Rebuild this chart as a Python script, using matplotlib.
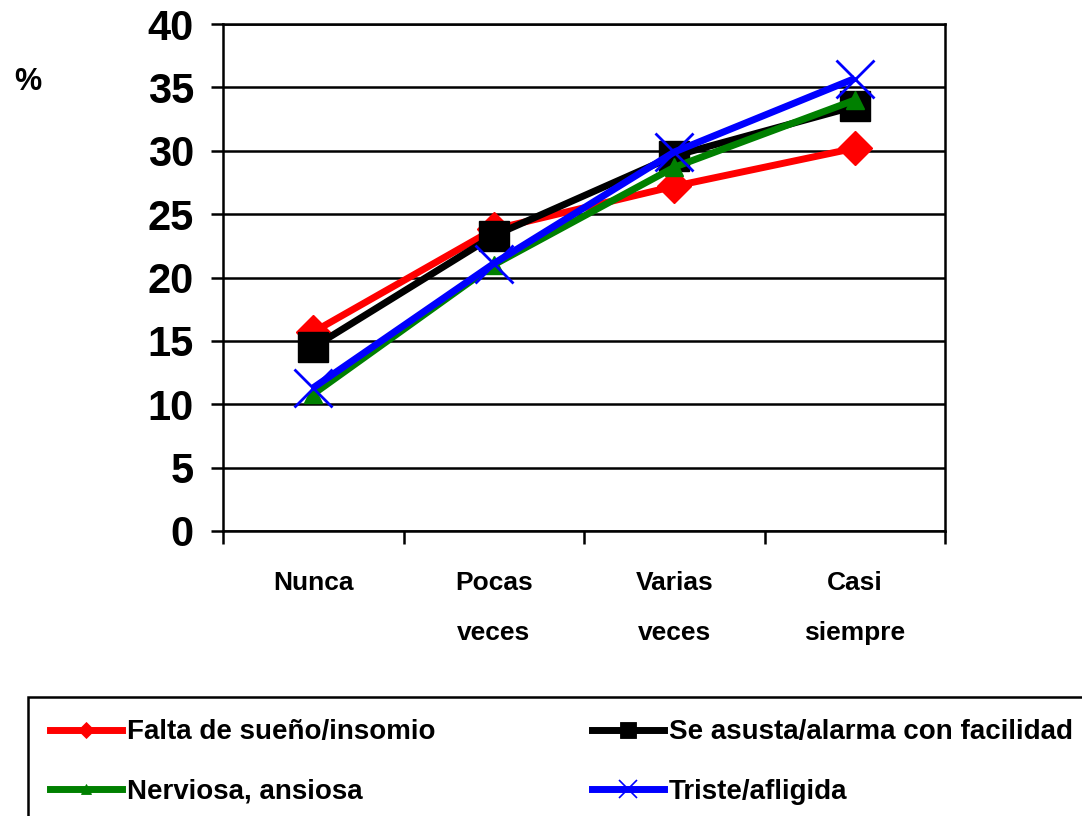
import matplotlib
matplotlib.use("Agg")
import matplotlib.pyplot as plt
from matplotlib.lines import Line2D

categories = ["Nunca", "Pocas\nveces", "Varias\nveces", "Casi\nsiempre"]
series_names = ["Falta de sueño/insomio", "Se asusta/alarma con facilidad",
                "Nerviosa, ansiosa", "Triste/afligida"]
falta_sueno = [15.7, 23.8, 27.2, 30.2]
se_asusta = [14.5, 23.3, 29.6, 33.5]
nerviosa = [10.8, 21.0, 28.7, 34.0]
triste = [11.3, 21.1, 29.9, 35.7]
y_ticks = [0, 5, 10, 15, 20, 25, 30, 35, 40]

plt.rcParams['font.family'] = ['Liberation Sans', 'DejaVu Sans']

fig = plt.figure(figsize=(10.82, 8.16), dpi=100)
ax = fig.add_axes([223/1082, 1-531/816, (945-223)/1082, (531-24)/816])

x = list(range(1, len(categories)+1))
styles = [
    (falta_sueno, "#ff0000", "D", 17, 1.0),
    (se_asusta, "#000000", "s", 22, 1.0),
    (nerviosa, "#008000", "^", 13, 1.0),
    (triste, "#0000ff", "x", 27, 2.0),
]
for vals, c, m, ms, mew in styles:
    ax.plot(x, vals, color=c, lw=5, marker=m, ms=ms, mfc=c, mec=c, mew=mew,
            solid_capstyle='butt', clip_on=False)

ax.set_xlim(0.5, len(categories)+0.5)
ax.set_ylim(0, 40)
ax.set_yticks(y_ticks)
ax.set_yticklabels([str(t) for t in y_ticks], fontsize=30, fontweight='bold')
ax.yaxis.grid(True, color='black', lw=1.8)
ax.set_axisbelow(True)

ax.set_xticks(x)
ax.set_xticklabels(categories, fontsize=19, fontweight='bold', linespacing=2.35)
ax.set_xticks([i+0.5 for i in range(0, len(categories)+1)], minor=True)
ax.tick_params(axis='x', which='major', length=0, pad=29)
ax.tick_params(axis='x', which='minor', length=9, width=1.8, color='black')
ax.tick_params(axis='y', which='major', length=9, width=1.8, pad=12)
for sp in ax.spines.values():
    sp.set_linewidth(1.8)
    sp.set_color('black')

fig.text(28/1082, 1-82/816, "%", fontsize=22, fontweight='bold', ha='center', va='center')

handles = []
for (vals, c, m, ms, mew), name in zip(styles, series_names):
    handles.append(Line2D([0], [0], color=c, lw=5, marker=m, ms=ms*0.5, mfc=c, mec=c,
                          mew=mew*0.6, label=name))
order = [0, 2, 1, 3]
leg = fig.legend([handles[i] for i in order], [series_names[i] for i in order],
                 ncol=2, loc='upper left', bbox_to_anchor=(28/1082, 1-697/816),
                 frameon=True, fancybox=False, edgecolor='black', framealpha=1,
                 prop={'size': 20, 'weight': 'bold'}, handlelength=2.6,
                 handletextpad=0.18, columnspacing=5.6, labelspacing=1.2,
                 borderpad=0.8, borderaxespad=0)
leg.get_frame().set_linewidth(1.8)

fig.savefig("out.png", dpi=100)
